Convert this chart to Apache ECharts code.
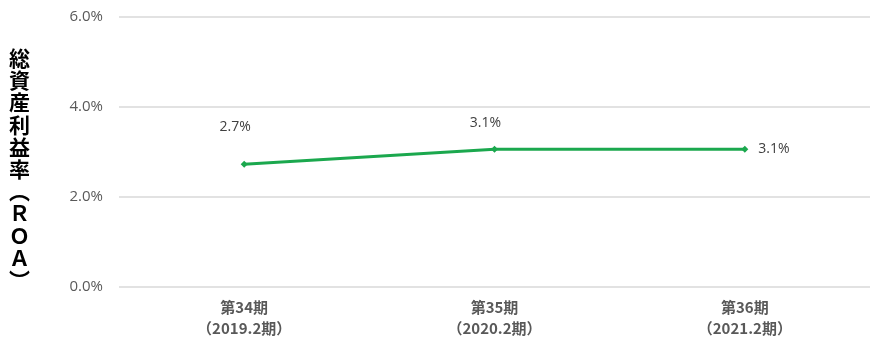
<!DOCTYPE html>
<html>
<head>
<meta charset="utf-8">
<script src="https://cdn.jsdelivr.net/npm/echarts@6/dist/echarts.min.js"></script>
<style>
html,body{margin:0;padding:0;background:#fff;}
#c{width:870px;height:339px;}
</style>
</head>
<body>
<div id="c"></div>
<script>
const categories = ['第34期\n（2019.2期）', '第35期\n（2020.2期）', '第36期\n（2021.2期）'];
const roaValues = [2.73, 3.06, 3.06];
const yTicks = [0, 2, 4, 6];
const axisTitle = '総資産利益率︵ＲＯＡ︶';

const chart = echarts.init(document.getElementById('c'));
const labelPos = [
  {position: 'top', distance: 5, offset: [-9, -22]},
  {position: 'top', distance: 5, offset: [-9, -11]},
  {position: 'right', distance: 10, offset: [0, 0]}
];
chart.setOption({
  animation: false,
  grid: {left: 119, top: 17, width: 762, bottom: 50, containLabel: false},
  xAxis: {
    type: 'category',
    data: categories,
    boundaryGap: true,
    axisLine: {show: false},
    axisTick: {show: false},
    axisLabel: {
      color: '#595959',
      fontFamily: 'Noto Sans CJK JP',
      fontSize: 15,
      fontWeight: 'bold',
      lineHeight: 21,
      margin: 10
    }
  },
  yAxis: {
    type: 'value',
    min: yTicks[0],
    max: yTicks[yTicks.length - 1],
    interval: 2,
    axisLine: {show: false},
    axisTick: {show: false},
    splitLine: {lineStyle: {color: '#d9d9d9', width: 1.5}},
    axisLabel: {
      color: '#595959',
      fontFamily: 'Open Sans',
      fontSize: 15,
      margin: 16,
      formatter: v => v.toFixed(1) + '%'
    }
  },
  graphic: [{
    type: 'text',
    left: 9,
    top: 47,
    style: {
      text: axisTitle.split('').join('\n'),
      fontFamily: 'Noto Sans CJK JP',
      fontWeight: 'bold',
      fontSize: 21,
      lineHeight: 22.2,
      fill: '#000',
      align: 'center'
    }
  }],
  series: [{
    type: 'line',
    data: roaValues.map((v, i) => ({
      value: v,
      label: Object.assign({show: true}, labelPos[i])
    })),
    symbol: 'diamond',
    symbolSize: 7,
    lineStyle: {color: '#1BA84E', width: 3},
    itemStyle: {color: '#1BA84E'},
    label: {
      show: true,
      color: '#404040',
      fontFamily: 'Open Sans',
      fontSize: 14,
      formatter: p => p.value.toFixed(1) + '%'
    }
  }]
});
</script>
</body>
</html>
